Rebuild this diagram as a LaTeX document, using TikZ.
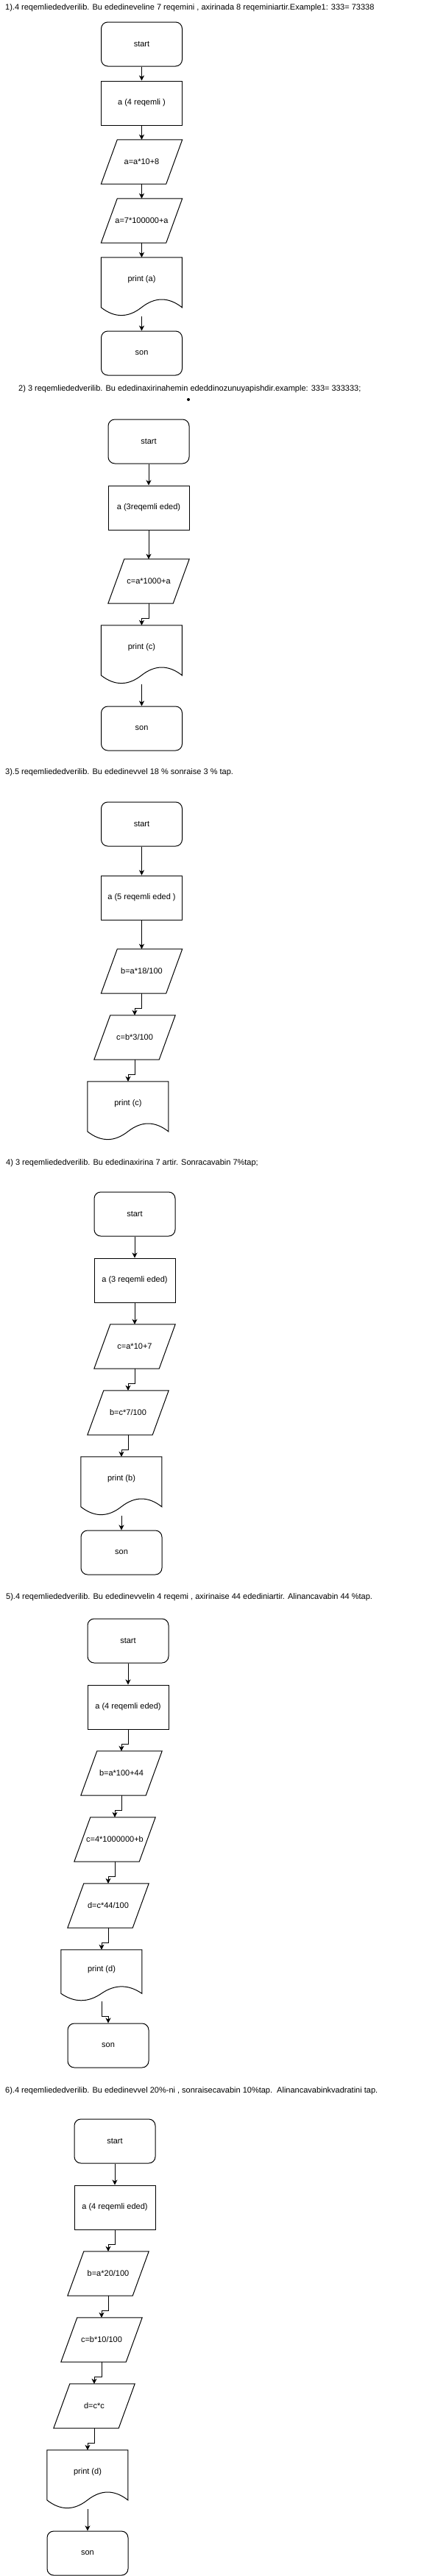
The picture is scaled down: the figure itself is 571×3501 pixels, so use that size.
\documentclass[tikz,border=0pt]{standalone}
\usepackage{fontspec}
\setmainfont{Liberation Sans}
\usetikzlibrary{arrows.meta}
\newcommand\docwave[2]{\draw[shapeline,shift={(#1.north west)}] (0,0) -- (110,0) -- (110,{0.85*#2}) .. controls (91.67,{0.67*#2}) and (73.33,{0.67*#2}) .. (55,{0.85*#2}) .. controls (36.67,{1.03*#2}) and (18.33,{1.03*#2}) .. (0,{0.85*#2}) -- cycle;}
\begin{document}
\begin{tikzpicture}[x=1pt,y=-1pt,
  every node/.style={font=\fontsize{11pt}{13pt}\selectfont, inner sep=0pt},
  shapeline/.style={draw=black,line width=1pt},
  startbox/.style={shapeline, rounded corners=9pt, minimum width=110pt, minimum height=60pt},
  procbox/.style={shapeline, minimum width=110pt, minimum height=60pt},
  paranode/.style={minimum width=110pt, minimum height=60pt},
  docnode/.style={minimum width=110pt, minimum height=60pt},
  docshort/.style={minimum width=110pt, minimum height=52.5pt},
  titletext/.style={anchor=west},
  arr/.style={line width=1pt, -{Stealth[length=7pt,width=7pt,inset=2pt]}}
]
\fill[white] (0,0) rectangle (571,3501);
\useasboundingbox (0,0) rectangle (571,3501);

% ---------- 1 ----------
\node[titletext] (t1) at (7,11) {1).4 reqemliededverilib. Bu ededineveline 7 reqemini , axirinada 8 reqeminiartir.Example1: 333= 73338};
\node[startbox] (s1) at (192.5,60) {start};
\node[procbox] (r1) at (192.5,140) {a (4 reqemli )};
\node[paranode] (p1a) at (192.5,220) {a=a*10+8};
\node[paranode] (p1b) at (192.5,300) {a=7*100000+a};
\node[docnode] (d1) at (192.5,380) {print (a)};
\node[startbox] (e1) at (192.5,480) {son};
\draw[arr] (s1.south) -- (r1.north);
\draw[arr] (r1.south) -- (p1a.north);
\draw[arr] (p1a.south) -- (p1b.north);
\draw[arr] (p1b.south) -- (d1.north);
\draw[arr] ([yshift=-20pt]d1.south) -- (e1.north);

% ---------- 2 ----------
\node[titletext] (t2) at (25,529) {2) 3 reqemliededverilib. Bu ededinaxirinahemin ededdinozunuyapishdir.example: 333= 333333;};
\node[circle,fill=black,minimum size=4pt] (dot) at (256,543) {};
\node[startbox] (s2) at (202,600) {start};
\node[procbox] (r2) at (202,690) {a (3reqemli eded)};
\node[paranode] (p2) at (202,790) {c=a*1000+a};
\node[docnode] (d2) at (192.5,880) {print (c)};
\node[startbox] (e2) at (192.5,990) {son};
\draw[arr] (s2.south) -- (r2.north);
\draw[arr] (r2.south) -- (p2.north);
\draw[arr] (p2.south) -- ++(0,20) -| (d2.north);
\draw[arr] ([yshift=-20pt]d2.south) -- (e2.north);

% ---------- 3 ----------
\node[titletext] (t3) at (7,1050) {3).5 reqemliededverilib. Bu ededinevvel 18 \% sonraise 3 \% tap.};
\node[startbox] (s3) at (192.5,1120) {start};
\node[procbox] (r3) at (192.5,1220) {a (5 reqemli eded )};
\node[paranode] (p3a) at (192.5,1320) {b=a*18/100};
\node[paranode] (p3b) at (183,1410) {c=b*3/100};
\node[docnode] (d3) at (174,1500) {print (c)};
\draw[arr] (s3.south) -- (r3.north);
\draw[arr] (r3.south) -- (p3a.north);
\draw[arr] (p3a.south) -- ++(0,20) -| (p3b.north);
\draw[arr] (p3b.south) -- ++(0,20) -| (d3.north);

% ---------- 4 ----------
\node[titletext] (t4) at (8,1581) {4) 3 reqemliededverilib. Bu ededinaxirina 7 artir. Sonracavabin 7\%tap;};
\node[startbox] (s4) at (183,1650) {start};
\node[procbox] (r4) at (183,1740) {a (3 reqemli eded)};
\node[paranode] (p4a) at (183,1830) {c=a*10+7};
\node[paranode] (p4b) at (174,1920) {b=c*7/100};
\node[docnode] (d4) at (165,2010) {print (b)};
\node[startbox] (e4) at (165,2110) {son};
\draw[arr] (s4.south) -- (r4.north);
\draw[arr] (r4.south) -- (p4a.north);
\draw[arr] (p4a.south) -- ++(0,20) -| (p4b.north);
\draw[arr] (p4b.south) -- ++(0,20) -| (d4.north);
\draw[arr] ([yshift=-20pt]d4.south) -- (e4.north);

% ---------- 5 ----------
\node[titletext] (t5) at (8,2171) {5).4 reqemliededverilib. Bu ededinevvelin 4 reqemi , axirinaise 44 edediniartir. Alinancavabin 44 \%tap.};
\node[startbox] (s5) at (174,2230) {start};
\node[procbox] (r5) at (174,2320) {a (4 reqemli eded)};
\node[paranode] (p5a) at (165,2410) {b=a*100+44};
\node[paranode] (p5b) at (156,2500) {c=4*1000000+b};
\node[paranode] (p5c) at (147,2590) {d=c*44/100};
\node[docshort] (d5) at (138,2676.25) {print (d)};
\node[startbox] (e5) at (147,2780) {son};
\draw[arr] (s5.south) -- (r5.north);
\draw[arr] (r5.south) -- ++(0,20) -| (p5a.north);
\draw[arr] (p5a.south) -- ++(0,20) -| (p5b.north);
\draw[arr] (p5b.south) -- ++(0,20) -| (p5c.north);
\draw[arr] (p5c.south) -- ++(0,20) -| (d5.north);
\draw[arr] ([yshift=-17.5pt]d5.south) -- ++(0,20) -| (e5.north);

% ---------- 6 ----------
\node[titletext] (t6) at (7,2842) {6).4 reqemliededverilib. Bu ededinevvel 20\%-ni , sonraisecavabin 10\%tap.\ \ Alinancavabinkvadratini tap.};
\node[startbox] (s6) at (156,2910) {start};
\node[procbox] (r6) at (156,3000) {a (4 reqemli eded)};
\node[paranode] (p6a) at (147,3090) {b=a*20/100};
\node[paranode] (p6b) at (138,3180) {c=b*10/100};
\node[paranode] (p6c) at (128,3270) {d=c*c};
\node[docnode] (d6) at (119,3360) {print (d)};
\node[startbox] (e6) at (119,3470) {son};
\draw[arr] (s6.south) -- (r6.north);
\draw[arr] (r6.south) -- ++(0,20) -| (p6a.north);
\draw[arr] (p6a.south) -- ++(0,20) -| (p6b.north);
\draw[arr] (p6b.south) -- ++(0,20) -| (p6c.north);
\draw[arr] (p6c.south) -- ++(0,20) -| (d6.north);
\draw[arr] ([yshift=-20pt]d6.south) -- (e6.north);

% parallelogram outlines
\foreach \n in {p1a,p1b,p2,p3a,p3b,p4a,p4b,p5a,p5b,p5c,p6a,p6b,p6c}
  \draw[shapeline] ([xshift=22pt]\n.north west) -- (\n.north east) -- ([xshift=-22pt]\n.south east) -- (\n.south west) -- cycle;
% document outlines
\docwave{d1}{80}
\docwave{d2}{80}
\docwave{d3}{80}
\docwave{d4}{80}
\docwave{d5}{70}
\docwave{d6}{80}
\end{tikzpicture}
\end{document}
